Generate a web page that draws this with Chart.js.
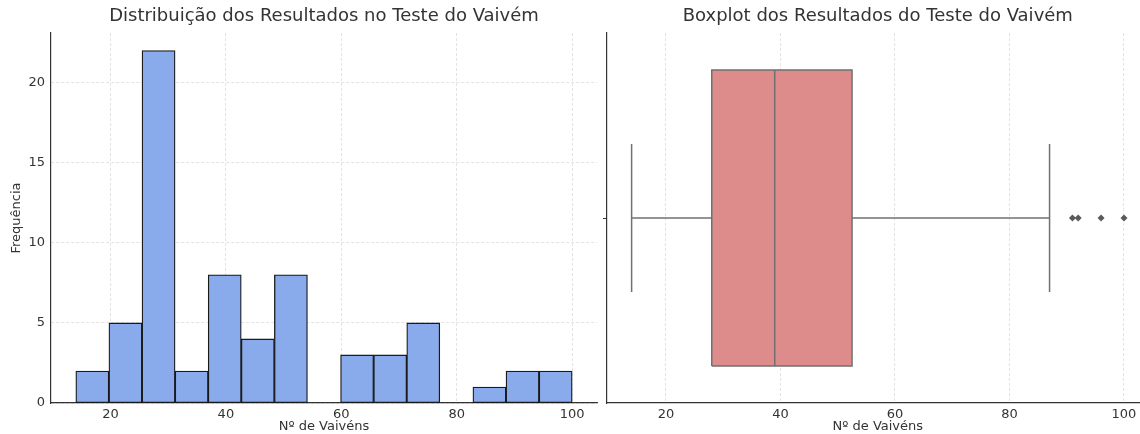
<!DOCTYPE html>
<html>
<head>
<meta charset="utf-8">
<script src="https://cdn.jsdelivr.net/npm/chart.js@4.4.0/dist/chart.umd.min.js"></script>
<style>
  html, body { margin: 0; padding: 0; background: #fff; }
  body { width: 1140px; height: 434px; overflow: hidden; position: relative; }
  #histWrap { position: absolute; left: 0; top: 0; }
  #boxWrap { position: absolute; left: 600px; top: 0; }
</style>
</head>
<body>
<div id="histWrap"><canvas id="hist" width="600" height="434"></canvas></div>
<div id="boxWrap"><canvas id="box" width="560" height="434"></canvas></div>
<script>
// histogram bins (edges) and how many results fall in each one
var binEdges = [14, 19.73, 25.47, 31.2, 36.93, 42.67, 48.4, 54.13, 59.87, 65.6, 71.33, 77.07, 82.8, 88.53, 94.27, 100];
var binCounts = [2, 5, 22, 2, 8, 4, 8, 0, 3, 3, 5, 0, 1, 2, 2];

// boxplot summary of the same results
var whiskerLow = 14;
var q1 = 28;
var median = 39;
var q3 = 52.5;
var whiskerHigh = 87;
var outliers = [91, 92, 96, 100];

var xTicks = [20, 40, 60, 80, 100];
var yTicks = [0, 5, 10, 15, 20];

var histTitle = 'Distribuição dos Resultados no Teste do Vaivém';
var boxTitle = 'Boxplot dos Resultados do Teste do Vaivém';
var xLabel = 'Nº de Vaivéns';
var yLabel = 'Frequência';

Chart.defaults.font.family = "'DejaVu Sans', sans-serif";
Chart.defaults.color = '#333';
Chart.defaults.animation = false;

var textCol = '#333';
var gridCol = '#dcdcdc';
var spineCol = '#333';

// matplotlib style 5% margins around the data
var dataMin = binEdges[0], dataMax = binEdges[binEdges.length - 1];
var xMin = dataMin - 0.05 * (dataMax - dataMin);
var xMax = dataMax + 0.05 * (dataMax - dataMin);
var yMax = Math.max.apply(null, binCounts) * 1.05;

function fixedTicks(list) {
    return function(scale) {
        scale.ticks = list.map(function(v) { return { value: v }; });
    };
}

// an empty axis on top, only used to centre the title over the plot area
function titleAxis(text) {
    return {
        type: 'linear',
        position: 'top',
        min: 0,
        max: 1,
        ticks: { display: false },
        grid: { display: false, drawTicks: false },
        border: { display: false },
        title: {
            display: true,
            text: text,
            color: textCol,
            font: { size: 18 },
            padding: { top: 6, bottom: 0 }
        },
        afterFit: function(s) { s.height = 33; }
    };
}

function xAxis() {
    return {
        type: 'linear',
        position: 'bottom',
        min: xMin,
        max: xMax,
        offset: false,
        afterBuildTicks: fixedTicks(xTicks),
        ticks: { color: textCol, font: { size: 13 }, padding: 4, maxRotation: 0 },
        grid: { color: gridCol, lineWidth: 0.8, drawTicks: false, offset: false },
        border: { color: spineCol, width: 1.2, dash: [3, 2] },
        title: {
            display: true,
            text: xLabel,
            color: textCol,
            font: { size: 13 },
            padding: { top: 0, bottom: 0 }
        },
        afterFit: function(s) { s.height = 31; }
    };
}

// ---------- histogram ----------
var histData = [];
for (var i = 0; i < binCounts.length; i++) {
    histData.push({ x: (binEdges[i] + binEdges[i + 1]) / 2, y: binCounts[i] });
}

var histChart = new Chart(document.getElementById('hist'), {
    type: 'bar',
    data: {
        datasets: [{
            data: histData,
            backgroundColor: '#89abec',
            borderColor: '#1a1a1a',
            borderWidth: 1.3,
            borderSkipped: false,
            barPercentage: 1,
            categoryPercentage: 1
        }]
    },
    options: {
        responsive: false,
        layout: { padding: { left: 0, right: 3, top: 0, bottom: 0 } },
        plugins: { legend: { display: false }, tooltip: { enabled: false } },
        scales: {
            x: xAxis(),
            top: titleAxis(histTitle),
            y: {
                type: 'linear',
                min: 0,
                max: yMax,
                afterBuildTicks: fixedTicks(yTicks),
                ticks: { color: textCol, font: { size: 13 }, padding: 6 },
                grid: { color: gridCol, lineWidth: 0.8, drawTicks: false },
                border: { color: spineCol, width: 1.2, dash: [3, 2] },
                title: {
                    display: true,
                    text: yLabel,
                    color: textCol,
                    font: { size: 13 },
                    padding: { top: 9, bottom: 0 }
                },
                afterFit: function(s) { s.width = 51; }
            }
        }
    }
});

// ---------- boxplot ----------
var boxHalf = 0.4;   // seaborn box width 0.8
var capHalf = 0.2;
var lineCol = 'rgb(112, 112, 112)';

function seg(points, extra) {
    var ds = {
        data: points,
        showLine: true,
        pointRadius: 0,
        borderColor: lineCol,
        borderWidth: 1.5,
        fill: false
    };
    for (var k in extra) ds[k] = extra[k];
    return ds;
}

var boxDatasets = [
    seg([{ x: median, y: -boxHalf }, { x: median, y: boxHalf }], { order: 1 }),
    seg([{ x: whiskerLow, y: 0 }, { x: q1, y: 0 }], { order: 2 }),
    seg([{ x: q3, y: 0 }, { x: whiskerHigh, y: 0 }], { order: 2 }),
    seg([{ x: whiskerLow, y: -capHalf }, { x: whiskerLow, y: capHalf }], { order: 2 }),
    seg([{ x: whiskerHigh, y: -capHalf }, { x: whiskerHigh, y: capHalf }], { order: 2 }),
    seg([
        { x: q1, y: -boxHalf }, { x: q3, y: -boxHalf }, { x: q3, y: boxHalf },
        { x: q1, y: boxHalf }, { x: q1, y: -boxHalf }
    ], { order: 3, fill: 'shape', backgroundColor: '#de8b8b' }),
    {
        data: outliers.map(function(v) { return { x: v, y: 0 }; }),
        showLine: false,
        pointStyle: 'rectRot',
        pointRadius: 3.5,
        backgroundColor: '#5a5a5a',
        borderColor: '#5a5a5a',
        borderWidth: 0,
        order: 0
    }
];

var boxChart = new Chart(document.getElementById('box'), {
    type: 'scatter',
    data: { datasets: boxDatasets },
    options: {
        responsive: false,
        layout: { padding: { left: 0, right: 11.4, top: 0, bottom: 0 } },
        plugins: { legend: { display: false }, tooltip: { enabled: false } },
        scales: {
            x: xAxis(),
            top: titleAxis(boxTitle),
            y: {
                type: 'linear',
                min: -0.5,
                max: 0.5,
                afterBuildTicks: fixedTicks([0]),
                ticks: { callback: function() { return ''; }, padding: 0 },
                grid: { drawOnChartArea: false, drawTicks: true, tickLength: 4, tickColor: spineCol, tickWidth: 1 },
                border: { color: spineCol, width: 1.2 },
                afterFit: function(s) { s.width = 7; }
            }
        }
    }
});
</script>
</body>
</html>
